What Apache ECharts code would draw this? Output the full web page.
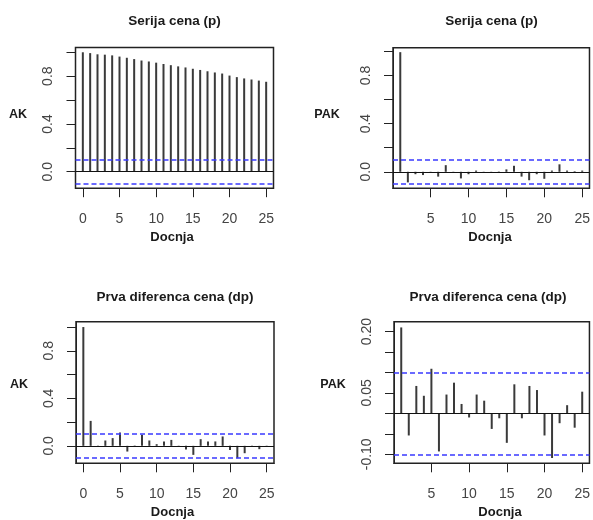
<!DOCTYPE html>
<html>
<head>
<meta charset="utf-8">
<script src="https://cdn.jsdelivr.net/npm/echarts@6/dist/echarts.min.js"></script>
<style>html,body{margin:0;padding:0;background:#fff}#c{width:593px;height:520px}</style>
</head>
<body>
<div id="c"></div>
<script>
// ---- data ----
const lagsAcf = [0,1,2,3,4,5,6,7,8,9,10,11,12,13,14,15,16,17,18,19,20,21,22,23,24,25];
const lagsPacf = [1,2,3,4,5,6,7,8,9,10,11,12,13,14,15,16,17,18,19,20,21,22,23,24,25];
const acfP = [1.0, 0.993, 0.983, 0.98, 0.974, 0.964, 0.954, 0.943, 0.931, 0.923, 0.913, 0.902, 0.892, 0.882, 0.873, 0.862, 0.852, 0.841, 0.831, 0.822, 0.805, 0.792, 0.781, 0.772, 0.763, 0.753];
const pacfP = [0.993, -0.088, -0.02, -0.027, -0.01, -0.04, 0.055, -0.01, -0.055, -0.02, 0.01, -0.005, -0.005, 0.003, 0.02, 0.05, -0.04, -0.07, -0.02, -0.058, 0.01, 0.062, 0.01, 0.005, 0.01];
const acfDp = [1.0, 0.21, -0.01, 0.045, 0.065, 0.113, -0.048, 0.003, 0.093, 0.045, 0.014, 0.037, 0.05, 0.002, -0.03, -0.076, 0.056, 0.037, 0.037, 0.079, -0.034, -0.104, -0.062, -0.003, -0.028, 0.002];
const pacfDp = [0.21, -0.054, 0.067, 0.043, 0.109, -0.093, 0.046, 0.075, 0.023, -0.01, 0.046, 0.031, -0.038, -0.012, -0.072, 0.071, -0.012, 0.067, 0.057, -0.054, -0.109, -0.024, 0.02, -0.035, 0.053];
const ciP = 0.097;
const ciDp = 0.098;
const titles = ['Serija cena (p)', 'Serija cena (p)', 'Prva diferenca cena (dp)', 'Prva diferenca cena (dp)'];
const yNames = ['AK', 'PAK', 'AK', 'PAK'];
const xName = 'Docnja';
const xTicksAcf = [0, 5, 10, 15, 20, 25];
const xTicksPacf = [5, 10, 15, 20, 25];
const yTicksA = [0, 0.2, 0.4, 0.6, 0.8, 1.0];
const yLabelsA = [0, 0.4, 0.8];
const yTicksD = [-0.10, -0.05, 0, 0.05, 0.10, 0.15, 0.20];
const yLabelsD = [-0.10, 0.05, 0.20];

// ---- chart ----
const chart = echarts.init(document.getElementById('c'), null, {renderer: 'canvas'});
const FONT = '"Liberation Sans", Arial, sans-serif';
const grids = [
  {left: 75.5, top: 47.5, width: 198, height: 140.7},
  {left: 393, top: 47.7, width: 196.5, height: 140.6},
  {left: 76, top: 321.7, width: 198, height: 141.6},
  {left: 394, top: 321.7, width: 197, height: 141.6}
].map(g => Object.assign(g, {show: true, borderColor: '#222', borderWidth: 1.5, backgroundColor: 'transparent', containLabel: false}));

const xRanges = [[-1, 26], [0.04, 25.96], [-1, 26], [0.04, 25.96]];
const yRanges = [[-0.138, 1.04], [-0.137, 1.03], [-0.147, 1.045], [-0.122, 0.224]];
const xTicks = [xTicksAcf, xTicksPacf, xTicksAcf, xTicksPacf];
const yTicks = [yTicksA, yTicksA, yTicksA, yTicksD];
const yLabels = [yLabelsA, yLabelsA, yLabelsA, yLabelsD];
const yDigits = [1, 1, 1, 2];

const xAxes = [0,1,2,3].map(i => ({
  type: 'value', gridIndex: i, min: xRanges[i][0], max: xRanges[i][1],
  axisLine: {show: true, onZero: false, lineStyle: {color: '#222', width: 1}},
  axisTick: {show: true, length: 9, customValues: xTicks[i], lineStyle: {color: '#222', width: 1}},
  axisLabel: {customValues: xTicks[i], margin: 24, fontSize: 14, color: '#444', fontFamily: FONT},
  splitLine: {show: false}
}));
const yAxes = [0,1,2,3].map(i => ({
  type: 'value', gridIndex: i, min: yRanges[i][0], max: yRanges[i][1],
  axisLine: {show: true, onZero: false, lineStyle: {color: '#222', width: 1}},
  axisTick: {show: true, length: 9, customValues: yTicks[i], lineStyle: {color: '#222', width: 1}},
  axisLabel: {customValues: yLabels[i], rotate: 90, margin: 20, fontSize: 14, color: '#444', fontFamily: FONT,
    formatter: v => Number(v).toFixed(yDigits[i])},
  splitLine: {show: false}
}));

function mk(lags, vals, i, ci) {
  return {
    type: 'bar', xAxisIndex: i, yAxisIndex: i, barWidth: 2,
    data: lags.map((l, k) => [l, vals[k]]),
    itemStyle: {color: '#3a3a3a'},
    silent: true,
    markLine: {
      silent: true, symbol: 'none', label: {show: false}, animation: false,
      data: [
        {yAxis: 0, lineStyle: {type: 'solid', color: '#111', width: 1.2}},
        {yAxis: ci, lineStyle: {type: [5, 3], color: '#3a3aff', width: 1.5}},
        {yAxis: -ci, lineStyle: {type: [5, 3], color: '#3a3aff', width: 1.5}}
      ]
    }
  };
}

const txt = (s, x, y, size) => ({
  type: 'text', x: x, y: y, silent: true,
  style: {text: s, font: 'bold ' + size + 'px ' + FONT, fill: '#1a1a1a', align: 'center', verticalAlign: 'middle', textAlign: 'center', textVerticalAlign: 'middle'}
});

chart.setOption({
  animation: false,
  grid: grids,
  xAxis: xAxes,
  yAxis: yAxes,
  series: [mk(lagsAcf, acfP, 0, ciP), mk(lagsPacf, pacfP, 1, ciP), mk(lagsAcf, acfDp, 2, ciDp), mk(lagsPacf, pacfDp, 3, ciDp)],
  graphic: [
    txt(titles[0], 174.5, 21, 13.5),
    txt(titles[1], 491.5, 21, 13.5),
    txt(titles[2], 175, 297, 13.5),
    txt(titles[3], 488, 297, 13.5),
    txt(yNames[0], 18, 115, 12.5),
    txt(yNames[1], 327, 115, 12.5),
    txt(yNames[2], 19, 385, 12.5),
    txt(yNames[3], 333, 385, 12.5),
    txt(xName, 172, 237, 13),
    txt(xName, 490, 237, 13),
    txt(xName, 172.5, 512, 13),
    txt(xName, 500, 512, 13)
  ]
});
</script>
</body>
</html>
